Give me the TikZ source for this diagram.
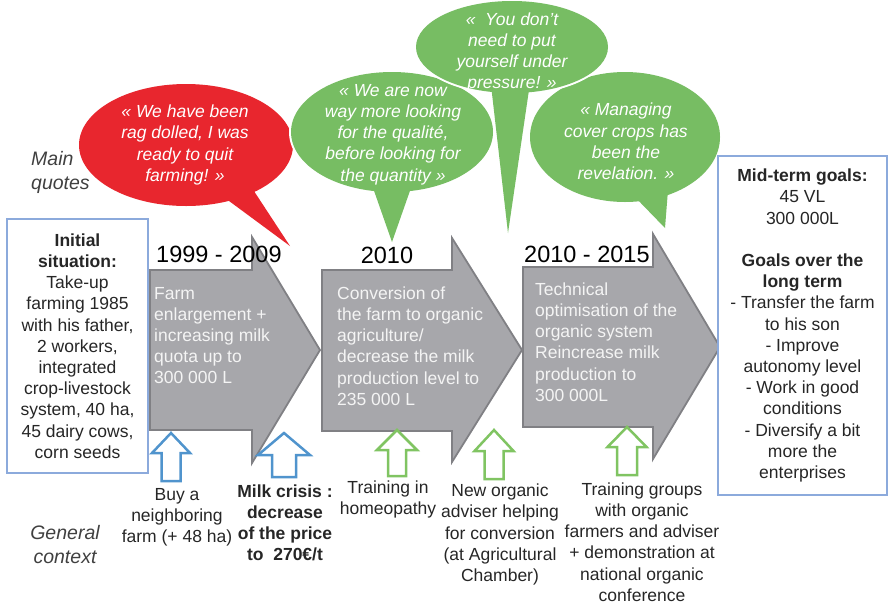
\documentclass[tikz,border=0pt]{standalone}
\usepackage{fontspec}
\setmainfont{Liberation Sans}
\definecolor{arrowgray}{RGB}{167,167,171}
\definecolor{arrowedge}{RGB}{128,128,132}
\definecolor{boxblue}{RGB}{140,170,220}
\definecolor{quotered}{RGB}{232,38,46}
\definecolor{quotegreen}{RGB}{119,189,99}
\definecolor{upblue}{RGB}{80,148,205}
\definecolor{upgreen}{RGB}{128,196,98}
\definecolor{txt}{RGB}{38,38,38}
\definecolor{lighttxt}{RGB}{244,244,244}
\tikzset{
  basefont/.style={font=\fontsize{17.5}{21.2}\selectfont, inner sep=0pt},
  infobox/.style={basefont, draw=boxblue, line width=1.5pt, align=center, text=txt, fill=white},
  period/.style={draw=arrowedge, fill=arrowgray, line width=1.8pt, line join=miter},
  intext/.style={basefont, align=left, text=lighttxt, anchor=west},
  yearlab/.style={font=\fontsize{23.5}{28}\selectfont, inner sep=0pt, text=black},
  bubbleedge/.style={draw=white, line width=4pt, line join=round},
  quote/.style={inner sep=0pt, align=center, text=white, font=\fontsize{17.5}{21.2}\selectfont\itshape},
  ctx/.style={basefont, align=center, text=txt},
  side/.style={inner sep=0pt, text=black!75, font=\fontsize{19.5}{24}\selectfont\itshape},
  upb/.style={draw=upblue, line width=2.5pt, fill=white, line join=miter},
  upg/.style={draw=upgreen, line width=2.5pt, fill=white, line join=miter},
}
\newcommand{\UpArrow}[7]{%
  \draw[#1] (#2,#3) -- ({#2+#5},#4) -- ({#2+#6},#4) -- ({#2+#6},#7) -- ({#2-#6},#7) -- ({#2-#6},#4) -- ({#2-#5},#4) -- cycle;}
\begin{document}
\begin{tikzpicture}[x=1pt,y=-1pt]
\useasboundingbox (0,0) rectangle (888,606);

% period arrows
\draw[period] (150,270) -- (252,270) -- (252,237) -- (320,350) -- (252,463) -- (252,430) -- (150,430) -- cycle;
\draw[period] (322,270) -- (452,270) -- (452,238) -- (522,350) -- (452,462) -- (452,431) -- (322,431) -- cycle;
\draw[period] (523,267) -- (653,267) -- (653,234) -- (720,347) -- (653,459) -- (653,427) -- (523,427) -- cycle;

\node[intext] (p1) at (154,335.5) {Farm\\enlargement +\\increasing milk\\quota up to\\300 000 L};
\node[intext] (p2) at (337,346) {Conversion of\\the farm to organic\\agriculture/\\decrease the milk\\production level to\\235 000 L};
\node[intext] (p3) at (535,342) {Technical\\optimisation of the\\organic system\\Reincrease milk\\production to\\300 000L};

\node[yearlab, anchor=west] (y1) at (156,254) {1999 - 2009};
\node[yearlab] (y2) at (387,255) {2010};
\node[yearlab, anchor=west] (y3) at (524,254) {2010 - 2015};

% speech bubbles
\path[bubbleedge] (186,145) ellipse [x radius=107, y radius=61];
\path[bubbleedge] (250,185) -- (290,246) -- (225,198) -- cycle;
\fill[quotered] (186,145) ellipse [x radius=107, y radius=61];
\fill[quotered] (250,185) -- (290,246) -- (225,198) -- cycle;
\node[quote] (q1) at (185,145) {« We have been\\rag dolled, I was\\ready to quit\\farming! »};

\path[bubbleedge] (392,132) ellipse [x radius=101, y radius=60];
\path[bubbleedge] (372,185) -- (392,242) -- (412,185) -- cycle;
\fill[quotegreen] (392,132) ellipse [x radius=101, y radius=60];
\fill[quotegreen] (372,185) -- (392,242) -- (412,185) -- cycle;
\node[quote] (q2) at (393,134.5) {« We are now\\way more looking\\for the qualité,\\before looking for\\the quantity »};

\path[bubbleedge] (625,137) ellipse [x radius=95, y radius=65];
\path[bubbleedge] (633,195) -- (665,228) -- (668,190) -- cycle;
\fill[quotegreen] (625,137) ellipse [x radius=95, y radius=65];
\fill[quotegreen] (633,195) -- (665,228) -- (668,190) -- cycle;
\node[quote] (q4) at (626,141.5) {« Managing\\cover crops has\\been the\\revelation. »};

\path[bubbleedge] (512,47) ellipse [x radius=96, y radius=46];
\path[bubbleedge] (491,85) -- (508,233) -- (530,83) -- cycle;
\fill[quotegreen] (512,47) ellipse [x radius=96, y radius=46];
\fill[quotegreen] (491,85) -- (508,233) -- (530,83) -- cycle;
\node[quote] (q3) at (512,52.5) {«\ \ You don’t\\need to put\\yourself under\\pressure! »};

% side boxes
\node[infobox, minimum width=141, minimum height=254] (init) at (77.5,346)
  {\textbf{Initial}\\\textbf{situation:}\\Take-up\\farming 1985\\with his father,\\2 workers,\\integrated\\crop-livestock\\system, 40 ha,\\45 dairy cows,\\corn seeds};
\node[infobox, minimum width=169, minimum height=339] (goals) at (802.5,325.5)
  {\textbf{Mid-term goals:}\\45 VL\\300 000L\\[21.2pt]\textbf{Goals over the}\\\textbf{long term}\\- Transfer the farm\\to his son\\- Improve\\autonomy level\\- Work in good\\conditions\\- Diversify a bit\\more the\\enterprises};

% row labels
\node[side, align=left, anchor=west] (mq) at (31,172) {Main\\quotes};
\node[side, align=center] (gc) at (65,545) {General\\context};

% context arrows
\UpArrow{upb}{171}{433}{453}{19}{9.5}{481}
\UpArrow{upb}{284}{433}{455}{26}{12}{477}
\UpArrow{upg}{397}{430}{450}{20}{9}{476}
\UpArrow{upg}{494}{430}{451}{19.5}{9.5}{479}
\UpArrow{upg}{627}{427}{447}{19.5}{10}{475}

% context texts
\node[ctx] (c1) at (177,517) {Buy a\\neighboring\\farm (+ 48 ha)};
\node[ctx, font=\fontsize{17.5}{21.2}\selectfont\bfseries] (c2) at (285,523) {Milk crisis :\\decrease\\of the price\\to\ \ 270€/t};
\node[ctx] (c3) at (388,499.5) {Training in\\homeopathy};
\node[ctx] (c4) at (500,534.5) {New organic\\adviser helping\\for conversion\\(at Agricultural\\Chamber)};
\node[ctx] (c5) at (642,542) {Training groups\\with organic\\farmers and adviser\\+ demonstration at\\national organic\\conference};
\end{tikzpicture}
\end{document}
